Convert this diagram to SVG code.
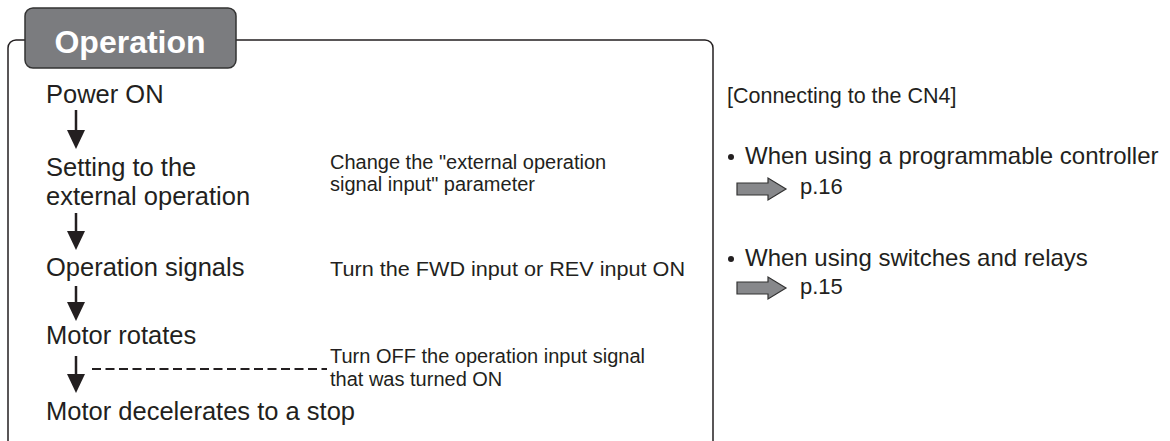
<svg xmlns="http://www.w3.org/2000/svg" width="1170" height="441" viewBox="0 0 1170 441">
<style>
.big{font-family:"Liberation Sans",Arial,sans-serif;font-size:25.5px;fill:#231f20}
.sm{font-family:"Liberation Sans",Arial,sans-serif;font-size:20px;fill:#231f20}
.rt{font-family:"Liberation Sans",Arial,sans-serif;font-size:24px;fill:#231f20}
.pg{font-family:"Liberation Sans",Arial,sans-serif;font-size:22px;fill:#231f20}
.ln{stroke:#231f20;stroke-width:2.5;fill:none}
.hd{fill:#231f20}
.blk{fill:#87888b;stroke:#333;stroke-width:1.2}
</style>
<rect width="1170" height="441" fill="#fff"/>
<g id="frame">
<path d="M8,445 V48 A8,8 0 0 1 16,40 H705 A8,8 0 0 1 713,48 V445" fill="none" stroke="#231f20" stroke-width="1.5"/>
</g>
<g id="tab">
<rect x="25" y="8" width="211" height="60" rx="8" fill="#7b7c7f" stroke="#333" stroke-width="1.5"/>
<text x="130" y="53" text-anchor="middle" font-family="Liberation Sans,Arial,sans-serif" font-weight="bold" font-size="32" fill="#fff">Operation</text>
</g>
<g id="step-power"><text class="big" x="46" y="103">Power ON</text></g>
<g id="step-setting"><text class="big" x="46" y="176">Setting to the</text><text class="big" x="46" y="205">external operation</text></g>
<g id="step-signals"><text class="big" x="46" y="276">Operation signals</text></g>
<g id="step-rotates"><text class="big" x="46" y="344">Motor rotates</text></g>
<g id="step-stop"><text class="big" x="46" y="420">Motor decelerates to a stop</text></g>
<g id="note-setting"><text class="sm" x="330" y="169">Change the "external operation</text><text class="sm" x="330" y="191">signal input" parameter</text></g>
<g id="note-signals"><text class="sm" x="330" y="276" textLength="355" lengthAdjust="spacingAndGlyphs">Turn the FWD input or REV input ON</text></g>
<g id="note-off"><text class="sm" x="330" y="363">Turn OFF the operation input signal</text><text class="sm" x="330" y="386">that was turned ON</text></g>
<g id="connectors">
<line class="ln" x1="76" y1="110" x2="76" y2="132"/><path class="hd" d="M67,130 H85 L76,149 Z"/>
<line class="ln" x1="76" y1="213" x2="76" y2="233"/><path class="hd" d="M67,231 H85 L76,250 Z"/>
<line class="ln" x1="76" y1="286" x2="76" y2="304"/><path class="hd" d="M67,302 H85 L76,321 Z"/>
<line class="ln" x1="76" y1="356" x2="76" y2="376"/><path class="hd" d="M67,374 H85 L76,393 Z"/>
<line x1="92" y1="369" x2="327" y2="369" stroke="#231f20" stroke-width="2" stroke-dasharray="9,4.5"/>
</g>
<g id="cn4"><text class="pg" x="727" y="103" style="font-size:21.5px">[Connecting to the CN4]</text></g>
<g id="plc">
<circle cx="731" cy="157" r="3" fill="#231f20"/>
<text class="rt" x="745" y="164">When using a programmable controller</text>
<path class="blk" d="M737,183 H768 V178 L786,189 L768,200 V195 H737 Z"/>
<text class="pg" x="800" y="194">p.16</text>
</g>
<g id="switch">
<circle cx="731" cy="259" r="3" fill="#231f20"/>
<text class="rt" x="745" y="266">When using switches and relays</text>
<path class="blk" d="M737,282 H768 V277 L786,288 L768,299 V294 H737 Z"/>
<text class="pg" x="800" y="294">p.15</text>
</g>
</svg>
